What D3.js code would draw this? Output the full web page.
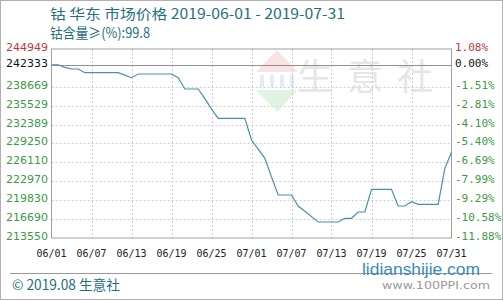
<!DOCTYPE html>
<html><head><meta charset="utf-8">
<script src="https://cdn.jsdelivr.net/npm/d3@7"></script>
<style>body{margin:0;background:#fff}svg{display:block}</style>
</head><body>
<svg id="c" width="503" height="300"></svg>
<script>
const startDate = "2019-06-01";
const prices = [242333,242333,241900,241626,241626,241012,241012,241012,241012,241012,241012,240600,240181,240796,240796,240796,240796,240796,240796,240181,238304,238304,238304,236700,235000,233436,233436,233436,233436,233436,229831,228300,226791,223700,220694,220694,220694,218866,218000,217100,216208,216208,216208,216208,216823,216823,217870,217870,221641,221641,221641,221641,218866,218866,219581,219149,219149,219149,219149,225129,227800];
const leftTicks = [244949,242333,238669,235529,232389,229250,226110,222970,219830,216690,213550];
const rightTicks = ["1.08%","0.00%","-1.51%","-2.81%","-4.10%","-5.40%","-6.69%","-7.99%","-9.29%","-10.58%","-11.88%"];
const xTickLabels = ["06/01","06/07","06/13","06/19","06/25","07/01","07/07","07/13","07/19","07/25","07/31"];
const titleLine1 = "钴 华东 市场价格 2019-06-01 - 2019-07-31";
const titleLine2 = "钴含量≥(%):99.8";
const footerLeft = "© 2019.08 生意社";
const footerRight = "www.100PPI.com";
const watermark = "lidianshijie.com";

const svg = d3.select("#c");
const L=51.5, R=451.5, T=49, B=238;
const parse = d3.timeParse("%Y-%m-%d");
const d0 = parse(startDate);
const data = prices.map((v,i)=>({date:d3.timeDay.offset(d0,i), v}));
const x = d3.scaleTime().domain([d0, d3.timeDay.offset(d0, prices.length-1)]).range([L,R]);
const y = d3.scaleLinear().domain([213550,244949]).range([B,T]);
const teal = "#23707f";

svg.append("rect").attr("x",0.5).attr("y",0.5).attr("width",502).attr("height",299).attr("fill","none").attr("stroke","#b0b0b0");

const wm = svg.append("g").attr("opacity",0.13);
wm.append("path").attr("d","M277,50 L298,72 L256,72 Z").attr("fill","#d33");
wm.append("path").attr("d","M256,90 L298,90 L277,112 Z").attr("fill","#3a3");
[262,272,282,292].forEach(px=>wm.append("rect").attr("x",px-2).attr("y",75).attr("width",4).attr("height",12).attr("fill","#36c"));
svg.append("text").attr("x",372).attr("y",90).attr("text-anchor","middle").attr("font-family","Noto Sans CJK SC").attr("font-size",36).attr("fill","#e6e6e6").attr("letter-spacing",14).text("生意社");

const xTickDates = xTickLabels.map((s,i)=>d3.timeDay.offset(d0,i*6));
const grid = svg.append("g");
leftTicks.slice(2,10).forEach(v=>grid.append("line").attr("x1",L).attr("x2",R).attr("y1",Math.round(y(v))+0.5).attr("y2",Math.round(y(v))+0.5).attr("stroke","#cfcfcf").attr("stroke-dasharray","2,2"));
xTickDates.slice(1,10).forEach(d=>grid.append("line").attr("x1",Math.round(x(d))+0.5).attr("x2",Math.round(x(d))+0.5).attr("y1",T).attr("y2",B).attr("stroke","#cfcfcf").attr("stroke-dasharray","2,2"));

svg.append("rect").attr("x",L).attr("y",T).attr("width",R-L).attr("height",B-T).attr("fill","none").attr("stroke","#a0a0a0");
svg.append("line").attr("x1",L).attr("x2",R).attr("y1",Math.round(y(242333))+0.5).attr("y2",Math.round(y(242333))+0.5).attr("stroke","#909090");

svg.append("path").datum(data).attr("fill","none").attr("stroke","#4a8fae").attr("stroke-width",1.2)
  .attr("d",d3.line().x(d=>x(d.date)).y(d=>y(d.v)));

const colorFor = i => i===0 ? "#c0393b" : (i===1 ? "#111" : "#3d9a45");
leftTicks.forEach((v,i)=>svg.append("text").attr("x",48).attr("y",y(v)+2).attr("text-anchor","end")
  .attr("font-family","DejaVu Sans").attr("font-size",11).attr("fill",colorFor(i)).text(v));
rightTicks.forEach((s,i)=>svg.append("text").attr("x",455).attr("y",y(leftTicks[i])+2)
  .attr("font-family","DejaVu Sans Mono").attr("font-size",11).attr("fill",colorFor(i)).text(s));

xTickDates.forEach((d,i)=>svg.append("text").attr("x",x(d)).attr("y",257).attr("text-anchor","middle")
  .attr("font-family","DejaVu Sans Mono").attr("font-size",10).attr("fill","#222").text(xTickLabels[i]));

svg.append("text").attr("x",50).attr("y",19).attr("textLength",295).attr("lengthAdjust","spacingAndGlyphs").attr("font-family","Noto Sans CJK SC").attr("font-size",14).attr("fill",teal).text(titleLine1);
svg.append("text").attr("x",50).attr("y",38).attr("textLength",100).attr("lengthAdjust","spacingAndGlyphs").attr("font-family","Noto Sans CJK SC").attr("font-size",14).attr("fill",teal).text(titleLine2);

svg.append("line").attr("x1",10).attr("x2",492).attr("y1",273.5).attr("y2",273.5).attr("stroke","#999");
svg.append("text").attr("x",12).attr("y",290).attr("textLength",108).attr("lengthAdjust","spacingAndGlyphs").attr("font-family","Noto Sans CJK SC").attr("font-size",14).attr("fill",teal).text(footerLeft);
svg.append("text").attr("x",490).attr("y",289).attr("text-anchor","end").attr("textLength",108).attr("lengthAdjust","spacingAndGlyphs").attr("font-family","DejaVu Sans").attr("font-size",11).attr("fill","#999").text(footerRight);
svg.append("text").attr("x",362).attr("y",275).attr("textLength",118).attr("lengthAdjust","spacingAndGlyphs").attr("font-family","Liberation Sans").attr("font-size",17).attr("fill","#3a8ac0").text(watermark);
</script>
</body></html>
